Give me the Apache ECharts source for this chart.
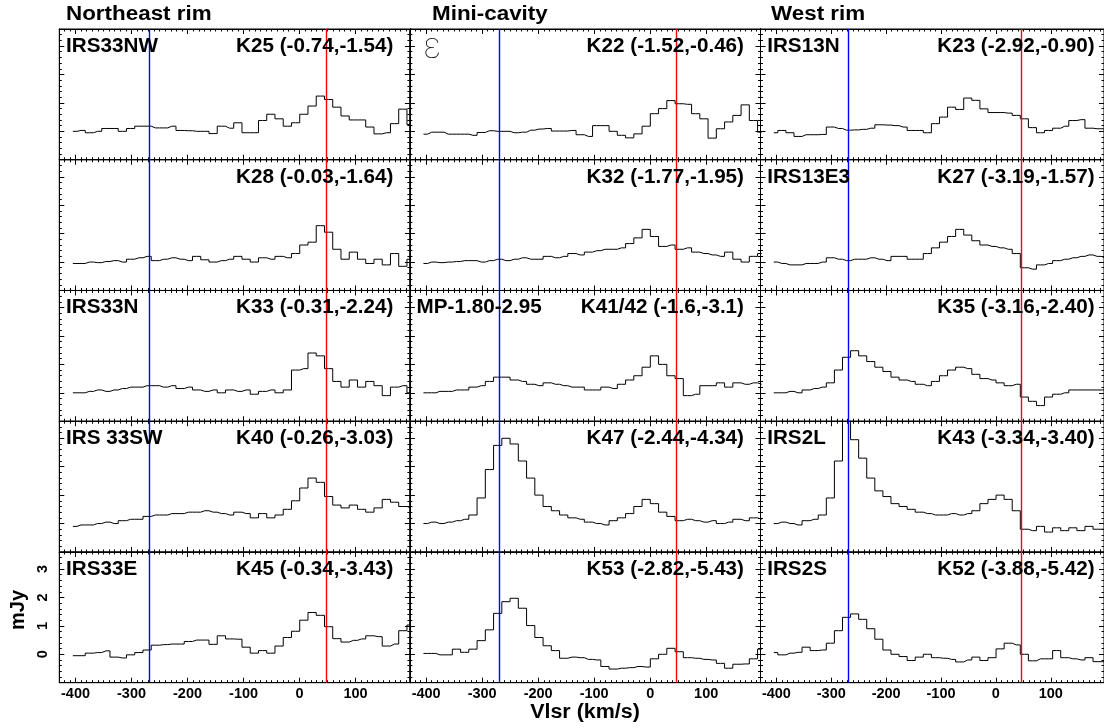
<!DOCTYPE html>
<html>
<head>
<meta charset="utf-8">
<title>Spectra</title>
<script src="https://cdn.jsdelivr.net/npm/echarts@6/dist/echarts.min.js"></script>
<style>
  html, body { margin: 0; padding: 0; background: #fff; }
  #chart { width: 1104px; height: 728px; }
</style>
</head>
<body>
<div id="chart"></div>
<script>
// channel grid of the spectra (km/s)
const V_START = -404.8
const V_STEP = 14.73
// velocities marked by the vertical lines
const blueVelocity = -269
const redVelocity = 47

const columnTitles = ['Northeast rim', 'Mini-cavity', 'West rim']
const sourceNames = [
  'IRS33NW', '\u03b5', 'IRS13N',
  '', '', 'IRS13E3',
  'IRS33N', 'MP-1.80-2.95', '',
  'IRS 33SW', '', 'IRS2L',
  'IRS33E', '', 'IRS2S'
]
const positionLabels = [
  'K25 (-0.74,-1.54)', 'K22 (-1.52,-0.46)', 'K23 (-2.92,-0.90)',
  'K28 (-0.03,-1.64)', 'K32 (-1.77,-1.95)', 'K27 (-3.19,-1.57)',
  'K33 (-0.31,-2.24)', 'K41/42 (-1.6,-3.1)', 'K35 (-3.16,-2.40)',
  'K40 (-0.26,-3.03)', 'K47 (-2.44,-4.34)', 'K43 (-3.34,-3.40)',
  'K45 (-0.34,-3.43)', 'K53 (-2.82,-5.43)', 'K52 (-3.88,-5.42)'
]
const xTickValues = [-400, -300, -200, -100, 0, 100]
const yTickValues = [0, 1, 2, 3]

// flux per channel (mJy)
const k25 = [0.0, 0.03, -0.05, 0.0, 0.1, 0.1, 0.0, 0.1, 0.18, 0.18, 0.12, 0.12, 0.18, 0.03, 0.02, 0.0, 0.0, -0.08, 0.18, 0.11, 0.3, -0.05, -0.05, 0.38, 0.6, 0.44, 0.18, 0.3, 0.6, 0.89, 1.24, 1.12, 0.85, 0.54, 0.4, 0.4, 0.15, -0.09, -0.05, 0.27, 0.78, 0.24]
const k22 = [-0.1, -0.03, -0.03, -0.1, -0.1, -0.1, -0.14, -0.04, 0.02, 0.0, 0.0, -0.05, -0.03, 0.04, 0.08, 0.1, 0.01, 0.01, 0.03, -0.12, -0.18, 0.2, 0.2, 0.0, -0.14, -0.23, -0.09, 0.18, 0.62, 0.8, 1.08, 0.97, 0.95, 0.62, 0.44, -0.24, 0.09, 0.33, 0.56, 0.93, 0.38, -0.03]
const k23 = [-0.05, 0.03, -0.05, -0.18, -0.12, -0.12, -0.11, 0.15, 0.1, 0.04, 0.05, 0.07, 0.11, 0.23, 0.22, 0.2, 0.15, 0.03, 0.03, -0.05, 0.27, 0.5, 0.85, 0.77, 1.17, 1.09, 0.79, 0.66, 0.66, 0.64, 0.56, 0.44, 0.13, -0.05, 0.03, 0.11, 0.18, 0.38, 0.41, 0.11, 0.09, 0.09]
const k28 = [-0.05, -0.05, 0.0, -0.02, 0.02, 0.05, 0.0, 0.1, 0.15, 0.2, 0.05, 0.1, 0.15, 0.1, 0.05, 0.2, 0.08, 0.0, 0.05, 0.1, 0.2, 0.1, 0.0, 0.15, 0.1, 0.2, 0.15, 0.3, 0.6, 0.7, 1.28, 1.05, 0.45, 0.1, 0.35, 0.1, -0.05, 0.1, -0.1, 0.3, -0.15, 0.1]
const k32 = [-0.05, 0.0, -0.02, 0.0, 0.02, 0.05, 0.05, 0.0, 0.05, 0.1, 0.05, 0.1, 0.15, 0.1, 0.1, 0.2, 0.15, 0.2, 0.3, 0.25, 0.35, 0.4, 0.45, 0.45, 0.5, 0.65, 0.85, 1.15, 0.9, 0.55, 0.6, 0.45, 0.5, 0.35, 0.3, 0.25, 0.2, 0.35, 0.1, 0.0, 0.2, 0.3]
const k27 = [0.0, -0.05, -0.1, -0.1, -0.05, -0.05, 0.0, 0.15, 0.1, 0.05, 0.1, 0.1, 0.15, 0.1, 0.05, 0.2, 0.2, 0.1, 0.1, 0.3, 0.5, 0.7, 0.9, 1.15, 0.95, 0.75, 0.6, 0.55, 0.5, 0.45, 0.3, -0.2, -0.25, -0.1, -0.05, 0.05, 0.1, 0.15, 0.2, 0.25, 0.2, 0.15]
const k33 = [0.0, 0.0, 0.05, 0.1, 0.05, 0.1, 0.15, 0.2, 0.2, 0.25, 0.25, 0.2, 0.25, 0.15, 0.2, 0.1, 0.05, 0.1, 0.0, 0.1, 0.05, 0.1, -0.05, 0.05, 0.1, 0.0, 0.1, 0.8, 0.85, 1.4, 1.3, 0.85, 0.4, 0.2, 0.45, 0.2, 0.4, 0.25, -0.1, 0.2, 0.25, 0.0]
const k41 = [0.0, 0.0, 0.05, 0.05, 0.1, 0.1, 0.2, 0.25, 0.4, 0.55, 0.55, 0.45, 0.4, 0.3, 0.25, 0.35, 0.3, 0.25, 0.2, 0.2, 0.1, 0.1, 0.2, 0.15, 0.3, 0.45, 0.6, 0.9, 1.3, 1.0, 0.6, 0.5, -0.1, -0.05, 0.25, 0.25, 0.35, 0.2, 0.35, 0.3, 0.35, 0.3]
const k35 = [0.0, 0.0, 0.05, 0.0, 0.1, 0.15, 0.2, 0.35, 0.8, 1.25, 1.48, 1.3, 1.1, 0.9, 0.75, 0.55, 0.45, 0.4, 0.3, 0.25, 0.4, 0.6, 0.8, 0.9, 0.85, 0.65, 0.5, 0.45, 0.35, 0.25, 0.3, -0.15, -0.3, -0.45, -0.15, -0.05, 0.0, 0.1, 0.1, 0.1, 0.1, 0.1]
const k40 = [-0.1, -0.05, -0.05, 0.0, 0.05, 0.0, 0.1, 0.15, 0.15, 0.25, 0.3, 0.3, 0.35, 0.35, 0.4, 0.4, 0.45, 0.4, 0.35, 0.3, 0.4, 0.35, 0.2, 0.35, 0.2, 0.3, 0.5, 0.8, 1.25, 1.6, 1.45, 0.95, 0.65, 0.55, 0.65, 0.5, 0.4, 0.55, 0.85, 0.75, 0.6, 0.55]
const k47 = [0.0, 0.05, 0.0, 0.05, 0.1, 0.15, 0.3, 0.9, 1.9, 2.75, 3.0, 2.8, 2.2, 1.6, 1.0, 0.6, 0.45, 0.3, 0.2, 0.15, 0.05, 0.0, -0.05, 0.1, 0.2, 0.35, 0.6, 0.85, 0.7, 0.4, 0.25, 0.1, 0.15, 0.1, 0.05, 0.1, 0.0, 0.05, 0.15, 0.1, 0.2, 0.15]
const k43 = [0.0, 0.05, 0.0, -0.05, 0.1, 0.15, 0.3, 0.9, 2.2, 3.9, 2.95, 2.3, 1.6, 1.15, 0.95, 0.7, 0.6, 0.5, 0.4, 0.35, 0.3, 0.3, 0.35, 0.3, 0.35, 0.45, 0.7, 0.85, 1.0, 0.85, 0.45, -0.2, -0.25, -0.1, -0.3, -0.15, -0.25, -0.15, -0.25, -0.1, -0.2, -0.2]
const k45 = [-0.05, -0.05, 0.04, 0.06, 0.12, -0.1, -0.13, -0.02, 0.06, 0.15, 0.32, 0.34, 0.36, 0.36, 0.45, 0.5, 0.5, 0.35, 0.65, 0.54, 0.53, 0.25, 0.04, 0.13, 0.04, 0.29, 0.59, 0.81, 1.2, 1.47, 1.37, 0.97, 0.55, 0.43, 0.49, 0.54, 0.65, 0.62, 0.29, 0.36, 0.83, 1.03]
const k53 = [0.03, 0.03, -0.02, -0.02, 0.18, 0.07, 0.18, 0.48, 0.86, 1.44, 1.85, 1.97, 1.62, 1.01, 0.59, 0.3, 0.13, -0.14, -0.1, -0.12, -0.18, -0.2, -0.43, -0.52, -0.49, -0.47, -0.43, -0.45, -0.16, 0.0, 0.21, 0.09, -0.12, -0.14, -0.18, -0.2, -0.32, -0.49, -0.35, -0.34, -0.16, 0.18]
const k52 = [0.06, -0.02, 0.04, 0.07, 0.25, 0.13, 0.15, 0.39, 0.83, 1.3, 1.42, 1.23, 0.9, 0.53, 0.15, 0.0, -0.08, -0.22, -0.1, 0.0, -0.12, -0.14, -0.18, -0.27, -0.2, -0.1, -0.22, -0.12, 0.19, 0.39, 0.33, 0.0, -0.23, -0.16, -0.16, 0.13, -0.12, -0.16, -0.2, -0.12, -0.26, -0.26]

// panels, row by row
const spectra = [k25, k22, k23, k28, k32, k27, k33, k41, k35, k40, k47, k43, k45, k53, k52]

// layout
const FONT = "'Liberation Sans', Arial, Helvetica, sans-serif"
const GRID_LEFT = 59.3
const GRID_TOP = 29
const COL_W = 350.6
const ROW_H = 130.74
const X_MIN = -429
const X_MAX = 197
const Y_MIN = -1
const Y_MAX = 3.6

const xMinor = []
for (let v = -420; v <= 190; v += 10) xMinor.push(v)
const yMinor = []
for (let v = -0.8; v < 3.5; v += 0.2) yMinor.push(Math.round(v * 10) / 10)

function xAxisDef (gridIndex, position, ticks, len, labels) {
  return {
    type: 'value', gridIndex, position, min: X_MIN, max: X_MAX,
    axisLine: { show: true, onZero: false, lineStyle: { color: '#000', width: 1 } },
    axisTick: { show: true, inside: true, length: len, customValues: ticks, lineStyle: { color: '#000', width: 1 } },
    axisLabel: { show: labels, customValues: ticks, margin: 4, color: '#000', fontSize: 14.5, fontWeight: 'bold', fontFamily: FONT },
    splitLine: { show: false }
  }
}

function yAxisDef (gridIndex, position, ticks, len, labels) {
  return {
    type: 'value', gridIndex, position, min: Y_MIN, max: Y_MAX,
    axisLine: { show: true, onZero: false, lineStyle: { color: '#000', width: 1 } },
    axisTick: { show: true, inside: true, length: len, customValues: ticks, lineStyle: { color: '#000', width: 1 } },
    axisLabel: { show: labels, customValues: ticks, rotate: 90, margin: 9, color: '#000', fontSize: 14.5, fontWeight: 'bold', fontFamily: FONT },
    splitLine: { show: false }
  }
}

const grids = []
const xAxes = []
const yAxes = []
const series = []
const texts = []

spectra.forEach((vals, i) => {
  const row = Math.floor(i / 3)
  const col = i % 3
  const left = GRID_LEFT + COL_W * col
  const top = GRID_TOP + ROW_H * row
  grids.push({ left, top, width: COL_W, height: ROW_H, show: true, borderColor: '#000', borderWidth: 1, backgroundColor: 'transparent' })

  const bottomRow = row === 4
  xAxes.push(xAxisDef(i, 'bottom', xTickValues, 5, bottomRow))
  xAxes.push(xAxisDef(i, 'bottom', xMinor, 2.5, false))
  xAxes.push(xAxisDef(i, 'top', xTickValues, 5, false))
  xAxes.push(xAxisDef(i, 'top', xMinor, 2.5, false))
  yAxes.push(yAxisDef(i, 'left', yTickValues, 5, bottomRow && col === 0))
  yAxes.push(yAxisDef(i, 'left', yMinor, 2.5, false))
  yAxes.push(yAxisDef(i, 'right', yTickValues, 5, false))
  yAxes.push(yAxisDef(i, 'right', yMinor, 2.5, false))

  series.push({
    type: 'line',
    xAxisIndex: 4 * i,
    yAxisIndex: 4 * i,
    step: 'middle',
    symbol: 'none',
    clip: true,
    silent: true,
    lineStyle: { color: '#000', width: 1 },
    data: vals.map((y, k) => [V_START + V_STEP * k, y]),
    markLine: {
      silent: true,
      symbol: ['none', 'none'],
      label: { show: false },
      data: [
        { xAxis: blueVelocity, lineStyle: { color: '#0000ff', width: 1.4, type: 'solid' } },
        { xAxis: redVelocity, lineStyle: { color: '#ff0000', width: 1.4, type: 'solid' } }
      ]
    }
  })

  // panel labels
  const labelY = top + 17.5
  if (sourceNames[i] === '\u03b5') {
    texts.push({
      type: 'text', x: left + 13, y: labelY + 1, z: 10,
      style: { text: '\u03b5', fill: '#000', font: "100 36px Inter, 'DejaVu Sans', sans-serif", textAlign: 'left', align: 'left', textVerticalAlign: 'middle', verticalAlign: 'middle' }
    })
  } else if (sourceNames[i]) {
    texts.push({
      type: 'text', x: left + 6.7, y: labelY, scaleX: 1.06, z: 10,
      style: { text: sourceNames[i], fill: '#000', font: 'bold 19.5px ' + FONT, textAlign: 'left', align: 'left', textVerticalAlign: 'middle', verticalAlign: 'middle' }
    })
  }
  texts.push({
    type: 'text', x: left + COL_W - 16.5, y: labelY, scaleX: 1.06, z: 10,
    style: { text: positionLabels[i], fill: '#000', font: 'bold 19.5px ' + FONT, textAlign: 'right', align: 'right', textVerticalAlign: 'middle', verticalAlign: 'middle' }
  })
})

// column titles
const titleX = [66, 432, 771]
columnTitles.forEach((t, c) => {
  texts.push({
    type: 'text', x: titleX[c], y: 14, scaleX: 1.12, z: 10,
    style: { text: t, fill: '#000', font: 'bold 20px ' + FONT, textAlign: 'left', align: 'left', textVerticalAlign: 'middle', verticalAlign: 'middle' }
  })
})

// axis names
texts.push({
  type: 'text', x: 585, y: 713, scaleX: 1.1, z: 10,
  style: { text: 'Vlsr (km/s)', fill: '#000', font: 'bold 19.5px ' + FONT, textAlign: 'center', align: 'center', textVerticalAlign: 'middle', verticalAlign: 'middle' }
})
texts.push({
  type: 'text', x: 18, y: 610, rotation: Math.PI / 2, z: 10,
  style: { text: 'mJy', fill: '#000', font: 'bold 20px ' + FONT, textAlign: 'center', align: 'center', textVerticalAlign: 'middle', verticalAlign: 'middle' }
})

const chart = echarts.init(document.getElementById('chart'))
chart.setOption({
  animation: false,
  backgroundColor: '#fff',
  grid: grids,
  xAxis: xAxes,
  yAxis: yAxes,
  series: series,
  graphic: { elements: texts }
})
</script>
</body>
</html>
